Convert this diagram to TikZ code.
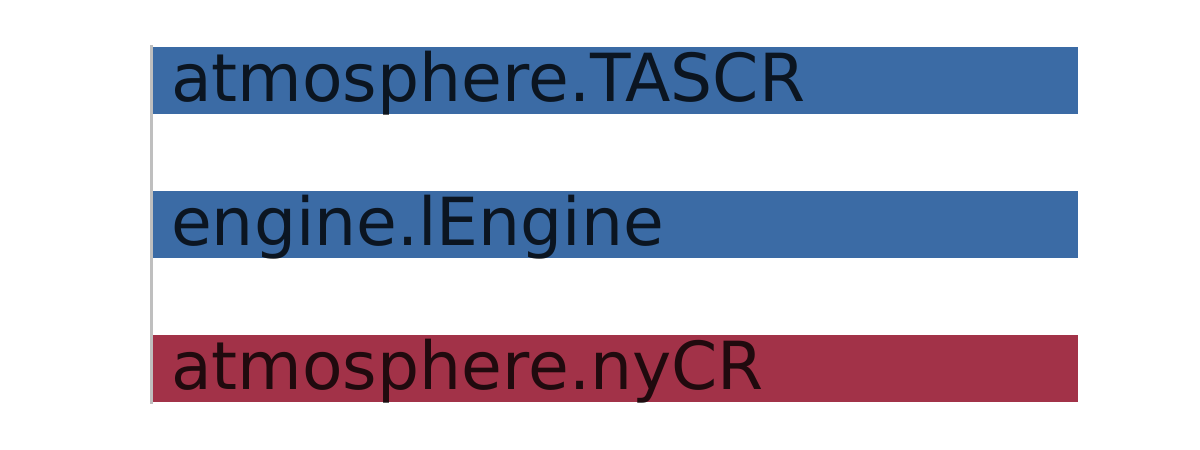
\documentclass[tikz,border=0pt]{standalone}
\usepackage{fontspec}
\setmainfont{DejaVu Sans}
\usetikzlibrary{calc}
\definecolor{barblue}{HTML}{3B6BA5}
\definecolor{barred}{HTML}{A23248}
\tikzset{
  bar/.style={draw=none},
  barlabel/.style={anchor=base west, inner sep=0, text=black, text opacity=.8, font=\fontsize{66.3}{66.3}\selectfont}
}

\begin{document}
\begin{tikzpicture}[x=1pt,y=-1pt]
\useasboundingbox[fill=white] (0,0) rectangle (1200,450);
\coordinate (O) at (152,0);
\foreach \y/\c/\t/\n in {47/barblue/atmosphere.TASCR/tascr, 191/barblue/engine.lEngine/lengine, 335/barred/atmosphere.nyCR/nycr} {
 \fill[\c] (152,\y) rectangle (1078,\y+67);
 \node[barlabel] (\n) at (171,\y+54.7) {\t};
}
\draw[black!25, line width=2.5] (151.5,45) -- (151.5,404);
\end{tikzpicture}
\end{document}
